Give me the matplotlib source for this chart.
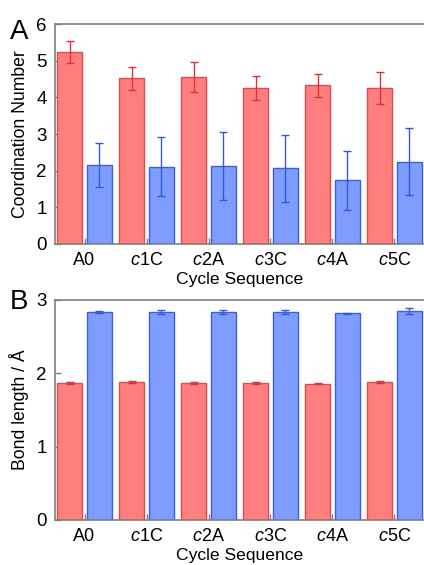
import matplotlib
matplotlib.use("Agg")
import matplotlib.pyplot as plt
import numpy as np

plt.rcParams['font.family'] = ['Liberation Sans', 'DejaVu Sans']
plt.rcParams['mathtext.fontset'] = 'custom'
plt.rcParams['mathtext.rm'] = 'Liberation Sans'
plt.rcParams['mathtext.it'] = 'Liberation Sans:italic'

categories = ["A0", "$\\mathit{c}$1C", "$\\mathit{c}$2A", "$\\mathit{c}$3C", "$\\mathit{c}$4A", "$\\mathit{c}$5C"]

coord_red = [5.23, 4.52, 4.55, 4.26, 4.33, 4.26]
coord_red_err = [0.30, 0.31, 0.41, 0.32, 0.32, 0.43]
coord_blue = [2.15, 2.11, 2.13, 2.06, 1.74, 2.25]
coord_blue_err = [0.60, 0.81, 0.92, 0.91, 0.80, 0.91]

bond_red = [1.87, 1.88, 1.87, 1.87, 1.86, 1.88]
bond_red_err = [0.015, 0.015, 0.015, 0.015, 0.012, 0.015]
bond_blue = [2.84, 2.84, 2.84, 2.84, 2.82, 2.85]
bond_blue_err = [0.015, 0.025, 0.03, 0.03, 0.005, 0.035]

red_fill, red_edge, red_err = "#FF7F7F", "#E8484C", "#E0303A"
blue_fill, blue_edge, blue_err = "#7F9CFF", "#3A5EE6", "#3058E0"
spine_col = "#808080"

W, H = 424, 565
fig = plt.figure(figsize=(W / 100, H / 100), dpi=100)

def make_ax(top, bottom):
    return fig.add_axes([55 / W, 1 - bottom / H, (W - 55) / W, (bottom - top) / H])

def draw(ax, red, rerr, blue, berr, ymax, ylabel):
    x = np.arange(len(categories))
    w = 0.40
    off = 0.24
    ax.bar(x - off, red, w, color=red_fill, edgecolor=red_edge, linewidth=1.0, zorder=2)
    ax.bar(x + off, blue, w, color=blue_fill, edgecolor=blue_edge, linewidth=1.0, zorder=2)
    ax.errorbar(x - off, red, yerr=rerr, fmt='none', ecolor=red_err, elinewidth=1.0,
                capsize=3, capthick=1.0, zorder=3)
    ax.errorbar(x + off, blue, yerr=berr, fmt='none', ecolor=blue_err, elinewidth=1.0,
                capsize=3, capthick=1.0, zorder=3)
    ax.set_xlim(-0.476, 5.476)
    ax.set_ylim(0, ymax)
    ax.set_yticks(range(0, ymax + 1))
    ax.set_xticks(x)
    ax.set_xticklabels(categories)
    ax.tick_params(axis='y', direction='in', color=spine_col, labelsize=13.5, length=4,
                   width=1.0, pad=6)
    ax.tick_params(axis='x', direction='in', color=spine_col, labelsize=13, length=4,
                   width=1.0, pad=6)
    for s in ['left', 'top', 'bottom']:
        ax.spines[s].set_color(spine_col)
        ax.spines[s].set_linewidth(1.2)
    ax.spines['right'].set_visible(False)
    ax.set_xlabel("Cycle Sequence", fontsize=12.6, labelpad=2)
    ax.set_ylabel(ylabel, fontsize=12.7, labelpad=5)

axA = make_ax(24, 244)
draw(axA, coord_red, coord_red_err, coord_blue, coord_blue_err, 6, "Coordination Number")
axB = make_ax(300, 520)
draw(axB, bond_red, bond_red_err, bond_blue, bond_blue_err, 3, "Bond length / Å")

fig.text(10 / W, 1 - 39 / H, "A", fontsize=20, ha='left', va='baseline')
fig.text(10 / W, 1 - 309 / H, "B", fontsize=20, ha='left', va='baseline')

fig.savefig("out.png", dpi=100)
